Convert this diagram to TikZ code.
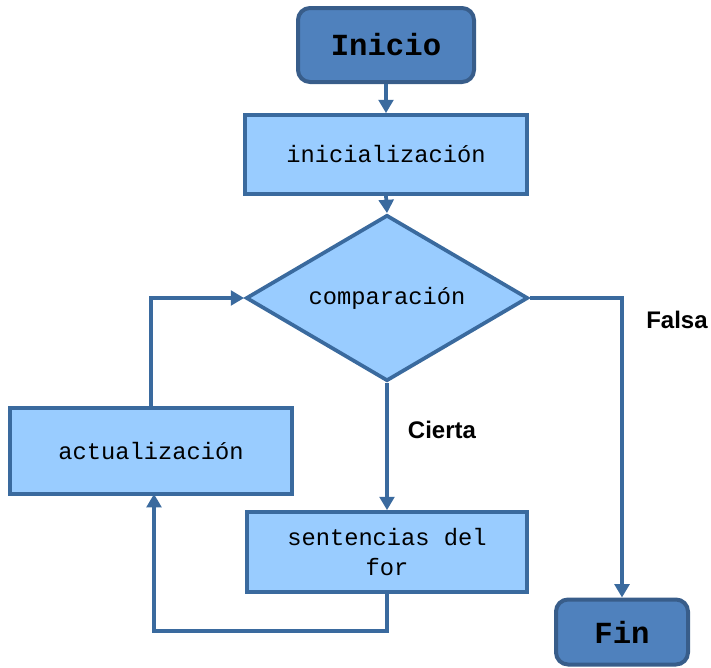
\documentclass[tikz,border=0pt]{standalone}
\usepackage{fontspec}
\setmainfont{Liberation Sans}
\newfontfamily\codefont{Liberation Mono}
\usetikzlibrary{shapes.geometric,arrows.meta}
\definecolor{termfill}{HTML}{4F81BD}
\definecolor{termline}{HTML}{385D8A}
\definecolor{boxfill}{HTML}{99CCFF}
\definecolor{flowline}{HTML}{3A6A9E}
\tikzset{
  terminal/.style={draw=termline, fill=termfill, line width=3pt, rounded corners=9pt,
    font=\codefont\bfseries\fontsize{23}{27}\selectfont, inner sep=0pt},
  process/.style={draw=flowline, fill=boxfill, line width=2.8pt, inner sep=0pt,
    font=\codefont\fontsize{17.8}{22}\selectfont, align=center},
  decision/.style={diamond, aspect=1.7, draw=flowline, fill=boxfill, line width=2.8pt, inner sep=0pt,
    font=\codefont\fontsize{17.8}{22}\selectfont},
  flow/.style={draw=flowline, line width=2.8pt, -{Triangle[length=10pt,width=11pt]}},
  branch/.style={font=\bfseries\fontsize{18}{22}\selectfont}
}
\begin{document}
\begin{tikzpicture}[x=0.75pt,y=-0.75pt]
\useasboundingbox (0,0) rectangle (711,668);

\node[terminal, minimum width=132pt, minimum height=55.5pt] (inicio) at (386,45) {Inicio};
\node[process, minimum width=211.5pt, minimum height=59.25pt] (init) at (386,154.5) {inicialización};
\node[decision, minimum width=211.5pt, minimum height=124.5pt] (comp) at (387,298) {comparación};
\node[process, minimum width=210pt, minimum height=60pt] (body) at (387,552) {sentencias del\\for};
\node[process, minimum width=211.5pt, minimum height=64.5pt] (upd) at (151,451) {actualización};
\node[terminal, minimum width=99pt, minimum height=48.75pt] (fin) at (622,632) {Fin};

\node[branch] (falsa) at (677,320) {Falsa};
\node[branch] (cierta) at (442,430) {Cierta};

\coordinate (loopbase) at (154,631);
\coordinate (upin) at (154,494);

\draw[flow] (inicio.south) -- (init.north);
\draw[flow] (init.south) -- (comp.north);
\draw[flow] (comp.east) -| (fin.north);
\draw[flow] (comp.south) -- (body.north);
\draw[flow] (body.south) |- (loopbase) -- (upin);
\draw[flow] (upd.north) |- (comp.west);
\end{tikzpicture}
\end{document}
